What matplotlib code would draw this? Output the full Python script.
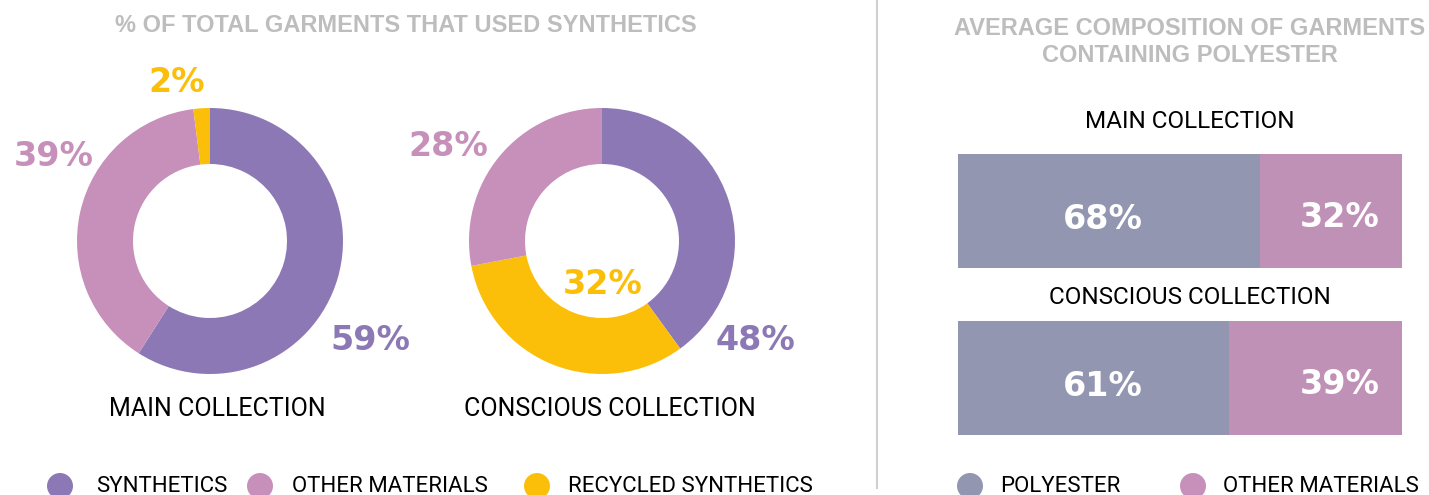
import matplotlib.pyplot as plt

W, H = 1429, 495

# donut data (shares as drawn, labels as printed), in material order
pie_materials = ["SYNTHETICS", "OTHER MATERIALS", "RECYCLED SYNTHETICS"]
main_shares = [59, 39, 2]
main_labels = ["59%", "39%", "2%"]
conscious_shares = [40, 28, 32]
conscious_labels = ["48%", "28%", "32%"]
collections = ["MAIN COLLECTION", "CONSCIOUS COLLECTION"]

# bar data
bar_materials = ["POLYESTER", "OTHER MATERIALS"]
polyester = [68, 61]
other = [32, 39]

PURPLE = "#8c78b5"
PINK = "#c690bb"
YELLOW = "#fbbf0a"
BLUEGREY = "#9296b1"
BARPINK = "#c091b6"
GREY = "#bdbdbd"
pie_colors = [PURPLE, PINK, YELLOW]

plt.rcParams["font.family"] = ["Roboto", "DejaVu Sans"]
TITLE_FONT = "Liberation Sans"
NUM_FONT = "DejaVu Sans"

fig = plt.figure(figsize=(W / 100, H / 100), dpi=100)

# overlay in pixel coordinates for free text / legend marks
ax0 = fig.add_axes([0, 0, 1, 1])
ax0.set_xlim(0, W)
ax0.set_ylim(H, 0)
ax0.axis("off")


def px_axes(x0, y0, x1, y1):
    return fig.add_axes([x0 / W, 1 - y1 / H, (x1 - x0) / W, (y1 - y0) / H])


def draw_donut(cx, cy, shares, labels, order, label_pos):
    r = 133
    ax = px_axes(cx - r, cy - r, cx + r, cy + r)
    ax.pie([shares[i] for i in order], colors=[pie_colors[i] for i in order],
           startangle=90, counterclock=False, radius=1,
           wedgeprops=dict(width=1 - 77 / 133, edgecolor="none"))
    ax.set_xlim(-1, 1)
    ax.set_ylim(-1, 1)
    ax.set_aspect("equal")
    ax.axis("off")
    for lab, (lx, ly), c in zip(labels, label_pos, pie_colors):
        ax0.text(lx, ly, lab, color=c, fontsize=24, fontweight="bold",
                 family=NUM_FONT, ha="center", va="center")


# clockwise order of wedges starting at 12 o'clock
draw_donut(210, 241, main_shares, main_labels, [0, 1, 2],
           [(370, 341), (54, 156), (177, 83)])
draw_donut(602, 241, conscious_shares, conscious_labels, [0, 2, 1],
           [(755, 341), (448, 146), (603, 284)])

ax0.text(217, 409, collections[0], fontsize=18, ha="center", va="center")
ax0.text(610, 409, collections[1], fontsize=18, ha="center", va="center")

ax0.text(406, 25, "% OF TOTAL GARMENTS THAT USED SYNTHETICS", fontsize=17,
         fontweight="bold", family=TITLE_FONT, color=GREY, ha="center", va="center")
ax0.text(1190, 42, "AVERAGE COMPOSITION OF GARMENTS\nCONTAINING POLYESTER",
         fontsize=17, fontweight="bold", family=TITLE_FONT, color=GREY,
         ha="center", va="center", linespacing=1.2)

# divider
ax0.plot([877, 877], [0, 488], color="#d0d0d0", lw=1.5)

# stacked bars
axb = px_axes(958, 154, 1402, 435)
ypos = [0, 1]
axb.barh(ypos, polyester, height=0.683, color=BLUEGREY)
axb.barh(ypos, other, left=polyester, height=0.683, color=BARPINK)
axb.set_xlim(0, 100)
axb.set_ylim(1.341, -0.341)
axb.axis("off")
for y, p, o in zip(ypos, polyester, other):
    axb.text(32.7, y + 0.05, f"{p}%", color="white", fontsize=24, fontweight="bold",
             family=NUM_FONT, ha="center", va="center")
    axb.text(86, y + 0.04, f"{o}%", color="white", fontsize=24, fontweight="bold",
             family=NUM_FONT, ha="center", va="center")

ax0.text(1190, 122, collections[0], fontsize=17.5, ha="center", va="center")
ax0.text(1190, 298, collections[1], fontsize=17.5, ha="center", va="center")

# legends
leg_y = 486
for x, tx, lab, c in zip([60, 260, 537], [96, 292, 568], pie_materials, pie_colors):
    ax0.scatter([x], [leg_y], s=350, color=c, edgecolors="none")
    ax0.text(tx, leg_y, lab, fontsize=16, ha="left", va="center")
for x, tx, lab, c in zip([970, 1193], [1000, 1223], bar_materials, [BLUEGREY, PINK]):
    ax0.scatter([x], [leg_y], s=350, color=c, edgecolors="none")
    ax0.text(tx, leg_y, lab, fontsize=16, ha="left", va="center")

fig.savefig("out.png", dpi=100)
